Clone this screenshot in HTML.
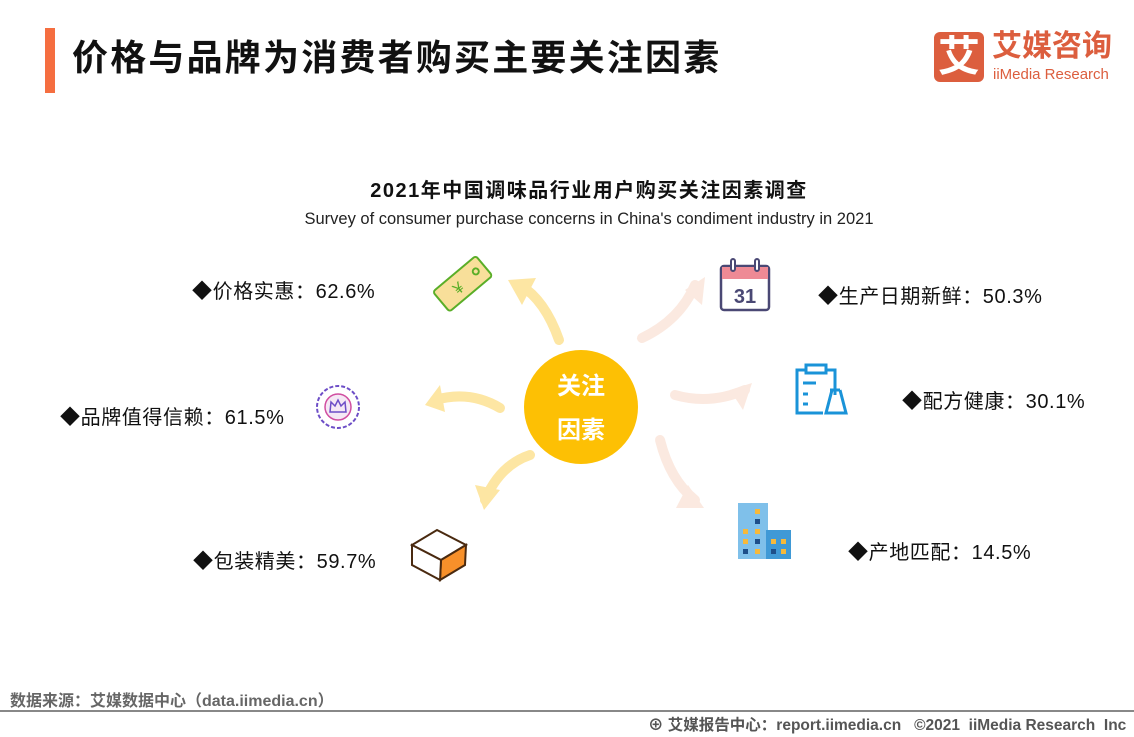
<!DOCTYPE html>
<html><head><meta charset="utf-8"><style>
body{margin:0;width:1134px;height:737px;background:#fff;position:relative;overflow:hidden;font-family:"Liberation Sans","Noto Sans CJK SC",sans-serif;color:#111}
.a{position:absolute;white-space:nowrap}
.l{font-size:20px;letter-spacing:0.6px}
</style></head><body>
<div class="a" style="left:45px;top:28px;width:10px;height:65px;background:#f56e40"></div>
<div class="a" style="left:72px;top:36px;font-size:36px;line-height:44px;font-weight:bold;letter-spacing:2.2px">价格与品牌为消费者购买主要关注因素</div>
<div class="a" style="left:934px;top:32px;width:50px;height:50px;background:#dc5e3e;border-radius:6px;color:#fff;font-size:42px;line-height:50px;text-align:center;font-weight:bold">艾</div>
<div class="a" style="left:992px;top:30px;font-size:30px;line-height:34px;color:#dc5e3e;font-weight:bold">艾媒咨询</div>
<div class="a" style="left:993px;top:66px;font-size:15px;color:#dc5e3e">iiMedia Research</div>

<div class="a" style="left:0;width:1178px;top:174px;text-align:center;font-size:20px;font-weight:bold;letter-spacing:1.5px">2021年中国调味品行业用户购买关注因素调查</div>
<div class="a" style="left:0;width:1178px;top:210px;text-align:center;font-size:16.5px;color:#222">Survey of consumer purchase concerns in China's condiment industry in 2021</div>

<svg class="a" style="left:0;top:0" width="1134" height="737">
<g fill="none" stroke-width="10" stroke-linecap="round">
<path d="M559,340 Q545,300 520,285" stroke="#fde6a3"/>
<path d="M500,408 Q470,390 435,400" stroke="#fde6a3"/>
<path d="M530,455 Q500,465 485,500" stroke="#fde6a3"/>
<path d="M642,338 Q680,320 695,285" stroke="#fbe9e0"/>
<path d="M675,395 Q710,405 745,390" stroke="#fbe9e0"/>
<path d="M660,440 Q670,480 695,500" stroke="#fbe9e0"/>
</g>
<polygon points="508,280 536,278 522,305" fill="#fde6a3"/>
<polygon points="425,405 440,385 445,412" fill="#fde6a3"/>
<polygon points="484,510 475,485 500,490" fill="#fde6a3"/>
<polygon points="705,277 702,305 685,290" fill="#fbe9e0"/>
<polygon points="752,383 743,410 730,390" fill="#fbe9e0"/>
<polygon points="704,508 676,508 688,485" fill="#fbe9e0"/>
<circle cx="581" cy="407" r="57" fill="#fdc004"/>
<g transform="translate(462,283) rotate(-40)"><rect x="-28" y="-12" width="56" height="26" rx="3" fill="#f8df9a" stroke="#5aae28" stroke-width="2"/><circle cx="18" cy="0" r="3" fill="none" stroke="#5aae28" stroke-width="2"/><text x="-6" y="7" font-size="16" fill="#5aae28" text-anchor="middle">¥</text></g>
<circle cx="338" cy="407" r="21" fill="#fff" stroke="#6d4ec7" stroke-width="2" stroke-dasharray="4 2"/>
<circle cx="338" cy="407" r="13" fill="#f5e8f5" stroke="#d14ea0" stroke-width="1.5"/>
<path d="M330,412 L331,402 L335,406 L338,400 L341,406 L345,402 L346,412 Z" fill="none" stroke="#6d4ec7" stroke-width="1.5"/>
<polygon points="412,545 437,530 466,545 441,560" fill="#fff" stroke="#4a2a10" stroke-width="2"/>
<polygon points="441,560 466,545 465,565 440,580" fill="#f7902a" stroke="#4a2a10" stroke-width="2"/>
<polygon points="412,545 441,560 440,580 412,565" fill="#fff" stroke="#4a2a10" stroke-width="2"/>
<rect x="721" y="266" width="48" height="44" rx="3" fill="#fff" stroke="#4a4874" stroke-width="2.5"/>
<rect x="722" y="267" width="46" height="12" fill="#ee8a95"/>
<rect x="731" y="259" width="4" height="12" rx="2" fill="#fff" stroke="#4a4874" stroke-width="2"/>
<rect x="755" y="259" width="4" height="12" rx="2" fill="#fff" stroke="#4a4874" stroke-width="2"/>
<text x="745" y="303" font-size="20" font-weight="bold" fill="#4a4874" text-anchor="middle" font-family="Liberation Sans">31</text>
<path d="M806,370 L797,370 L797,413 L823,413 M835,395 L835,370 L826,370" fill="none" stroke="#1a93d8" stroke-width="3"/>
<rect x="806" y="365" width="20" height="8" fill="#fff" stroke="#1a93d8" stroke-width="3"/>
<path d="M803,383 L816,383 M803,394 L808,394 M803,404 L808,404" stroke="#1a93d8" stroke-width="3"/>
<path d="M830,390 L840,390 M832,390 L826,413 L846,413 L840,390" fill="none" stroke="#1a93d8" stroke-width="3"/>
<rect x="738" y="503" width="30" height="56" fill="#7fc0ea"/>
<rect x="766" y="530" width="25" height="29" fill="#3f99d6"/>
<g fill="#f6b93b"><rect x="755" y="509" width="5" height="5"/><rect x="743" y="529" width="5" height="5"/><rect x="755" y="529" width="5" height="5"/><rect x="743" y="539" width="5" height="5"/><rect x="771" y="539" width="5" height="5"/><rect x="781" y="539" width="5" height="5"/><rect x="755" y="549" width="5" height="5"/><rect x="781" y="549" width="5" height="5"/></g>
<g fill="#1d4f8a"><rect x="755" y="519" width="5" height="5"/><rect x="755" y="539" width="5" height="5"/><rect x="743" y="549" width="5" height="5"/><rect x="771" y="549" width="5" height="5"/></g>
</svg>
<div class="a" style="left:557px;top:372px;font-size:24px;color:#fff;line-height:30px;font-weight:bold">关注</div>
<div class="a" style="left:557px;top:416px;font-size:24px;color:#fff;line-height:30px;font-weight:bold">因素</div>

<div class="a l" style="left:192px;top:275px">◆价格实惠：62.6%</div>
<div class="a l" style="left:60px;top:401px">◆品牌值得信赖：61.5%</div>
<div class="a l" style="left:193px;top:545px">◆包装精美：59.7%</div>
<div class="a l" style="left:818px;top:280px">◆生产日期新鲜：50.3%</div>
<div class="a l" style="left:902px;top:385px">◆配方健康：30.1%</div>
<div class="a l" style="left:848px;top:536px">◆产地匹配：14.5%</div>

<div class="a" style="left:10px;top:687px;font-size:16px;color:#666;font-weight:bold">数据来源：艾媒数据中心（data.iimedia.cn）</div>
<div class="a" style="left:0;top:710px;width:1134px;height:2px;background:#888"></div>
<div class="a" style="left:648px;top:713px;font-size:15.5px;color:#555;font-weight:bold">⊕ 艾媒报告中心：report.iimedia.cn&nbsp;&nbsp;&nbsp;©2021&nbsp;&nbsp;iiMedia Research&nbsp;&nbsp;Inc</div>
</body></html>
